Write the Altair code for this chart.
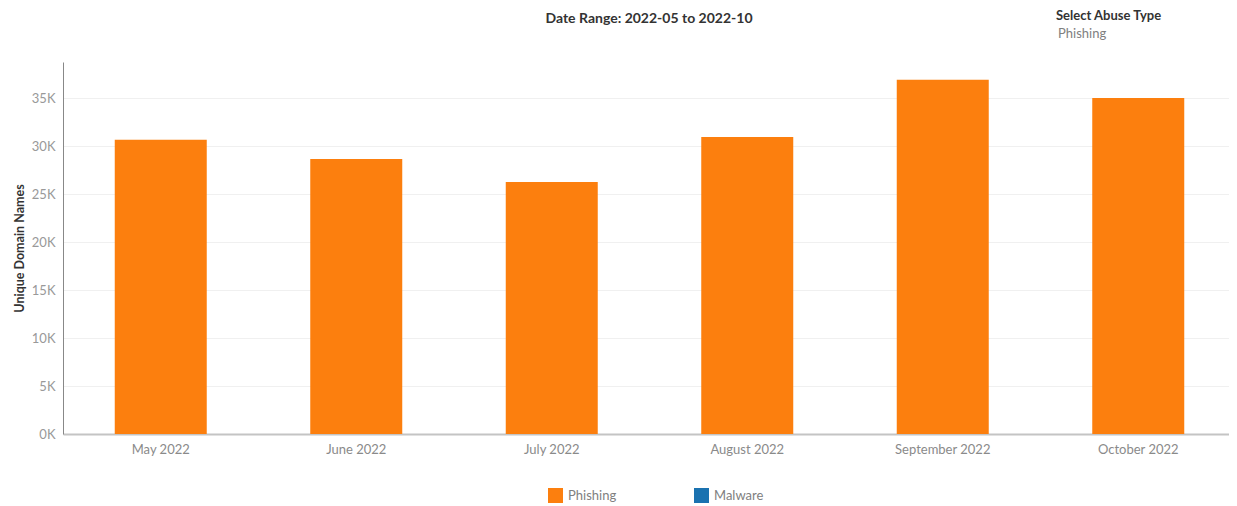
import altair as alt
import pandas as pd

months = ["May 2022", "June 2022", "July 2022", "August 2022", "September 2022", "October 2022"]
phishing = [30650, 28650, 26250, 30950, 36900, 35000]
legend_types = ["Phishing", "Malware"]
legend_colors = ["#fc7f0e", "#1a72b0"]

df = pd.DataFrame({"month": months, "value": phishing, "type": ["Phishing"] * len(months)})

FONT = "Lato"

bars = alt.Chart(df).mark_bar(size=92).encode(
    x=alt.X("month:N", sort=months, title=None,
            scale=alt.Scale(paddingInner=0, paddingOuter=0),
            axis=alt.Axis(labelAngle=0, labelColor="#8a8a8a", labelFontSize=13, labelFont=FONT,
                          labelPadding=9, ticks=False, domainColor="#c4c4c4", domainWidth=2,
                          grid=False)),
    y=alt.Y("value:Q", title="Unique Domain Names",
            scale=alt.Scale(domain=[0, 38750], nice=False),
            axis=alt.Axis(values=[0, 5000, 10000, 15000, 20000, 25000, 30000, 35000],
                          labelExpr="datum.value/1000 + 'K'",
                          labelColor="#999999", labelFontSize=13, labelFont=FONT, labelPadding=8,
                          ticks=False, domainColor="#888888", domainWidth=1,
                          gridColor="#f0f0f0", gridWidth=1,
                          titleColor="#333333", titleFontSize=12.5, titleFont=FONT, titleFontWeight="bold",
                          titlePadding=5)),
    color=alt.Color("type:N", scale=alt.Scale(domain=legend_types, range=legend_colors),
                    legend=alt.Legend(title=None, orient="none", legendX=485, legendY=426,
                                      direction="horizontal", symbolType="square", symbolSize=225,
                                      symbolStrokeWidth=0, labelFontSize=13, labelColor="#808080",
                                      labelFont=FONT, columnPadding=77, padding=0, labelOffset=5)),
)

title_df = pd.DataFrame({"t": ["Date Range: 2022-05 to 2022-10"]})
title = alt.Chart(title_df).mark_text(font=FONT, fontSize=14, fontWeight="bold", color="#333333",
                                      align="center", baseline="middle").encode(
    text="t:N", x=alt.value(586), y=alt.value(-43))

sel_df = pd.DataFrame({"t": ["Select Abuse Type"]})
sel = alt.Chart(sel_df).mark_text(font=FONT, fontSize=13, fontWeight="bold", color="#333333",
                                  align="left", baseline="middle").encode(
    text="t:N", x=alt.value(993), y=alt.value(-46))
ph_df = pd.DataFrame({"t": ["Phishing"]})
ph = alt.Chart(ph_df).mark_text(font=FONT, fontSize=13, color="#808080",
                                align="left", baseline="middle").encode(
    text="t:N", x=alt.value(995), y=alt.value(-28))

chart = alt.layer(bars, title, sel, ph).properties(
    width=1173, height=372,
    autosize=alt.AutoSizeParams(type="none"),
    padding={"left": 55, "top": 54, "right": -7, "bottom": 70},
).configure(background="white").configure_view(stroke=None)

chart.save("out.html", embed_options={"renderer": "svg", "actions": False})
